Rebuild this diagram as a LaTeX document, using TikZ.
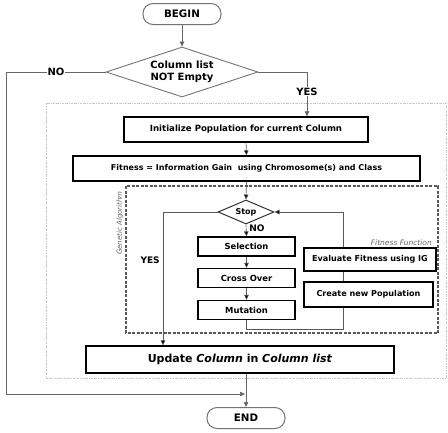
\documentclass[tikz,border=0pt]{standalone}
\usepackage{fontspec}
\setmainfont{DejaVu Sans}
\usetikzlibrary{arrows.meta,shapes.geometric}
\tikzset{
  terminal/.style={draw=gray!90!black, line width=1pt, rounded corners=10pt, minimum width=78pt, minimum height=21pt, inner sep=0pt, font=\fontsize{10.3}{11}\selectfont\bfseries},
  decide/.style={diamond, draw=gray!90!black, line width=0.9pt, inner sep=0pt},
  dtext/.style={align=center, inner sep=0pt, font=\fontsize{10}{11.5}\selectfont\bfseries},
  procbox/.style={draw=black, line width=1.3pt, inner sep=0pt, font=\fontsize{8.6}{10}\selectfont\bfseries},
  smallbox/.style={draw=black, line width=1.2pt, inner sep=0pt, minimum width=97pt, minimum height=19pt, font=\fontsize{8.4}{9}\selectfont\bfseries},
  fitbox/.style={draw=black, line width=1.2pt, inner sep=0pt, minimum width=130pt, minimum height=24pt, font=\fontsize{8.1}{9}\selectfont\bfseries},
  flow/.style={draw=gray!80!black, line width=0.6pt, -{Triangle[length=5pt,width=4.5pt]}},
  inflow/.style={draw=gray!70!black, line width=0.6pt, -{Triangle[length=5pt,width=4.5pt,fill=black]}},
  plain/.style={draw=gray!70!black, line width=0.6pt},
  lbl/.style={font=\fontsize{10}{11}\selectfont\bfseries, inner sep=1pt},
  ilbl/.style={font=\fontsize{9}{10}\selectfont\bfseries, inner sep=1pt},
}
\begin{document}
\begin{tikzpicture}[x=1pt,y=-1pt]
\useasboundingbox (0,0) rectangle (448,432);
% regions
\draw[gray!45, line width=0.6pt, dash pattern=on 2pt off 1pt on 0.5pt off 1pt] (46,103) rectangle (446,378);
\draw[gray!70!black, line width=1.1pt, dash pattern=on 3pt off 1.5pt] (126,186) rectangle (438,333);
\node[rotate=90, font=\fontsize{7}{8}\selectfont\itshape, text=gray!80!black, inner sep=0pt] (galbl) at (120,223) {Genetic Algorithm};
\node[font=\fontsize{7.5}{8}\selectfont\itshape, text=gray!80!black, anchor=south east, inner sep=1pt] (fflbl) at (433,247) {Fitness Function};
% nodes
\node[terminal] (begin) at (182,14) {BEGIN};
\node[decide, minimum width=152pt, minimum height=50pt] (cond) at (182,72) {};
\node[dtext] (condtxt) at (cond.center) {Column list\\NOT Empty};
\node[procbox, minimum width=244pt, minimum height=25pt] (init) at (246,129.5) {Initialize Population for current Column};
\node[procbox, minimum width=347pt, minimum height=25pt, font=\fontsize{8}{9}\selectfont\bfseries] (fit) at (246.5,168.5) {Fitness = Information Gain\ \ using Chromosome(s) and Class};
\node[decide, line width=1pt, draw=black!80, minimum width=56pt, minimum height=24pt] (stop) at (246,212) {};
\node[dtext, font=\fontsize{8}{9}\selectfont\bfseries] (stoptxt) at (stop.center) {Stop};
\node[smallbox] (sel) at (246.5,246.5) {Selection};
\node[smallbox] (cross) at (246.5,278) {Cross Over};
\node[smallbox] (mut) at (246.5,310) {Mutation};
\node[fitbox, minimum width=132pt, minimum height=23pt] (eval) at (370,259.5) {Evaluate Fitness using IG};
\node[fitbox, minimum width=129pt, minimum height=25pt] (create) at (368.5,294.5) {Create new Population};
\node[procbox, minimum width=308pt, minimum height=27pt, font=\fontsize{11}{12}\selectfont\bfseries] (upd) at (240,359.5) {Update \textit{Column} in \textit{Column list}};
\node[terminal] (end) at (246,418) {END};
\coordinate (join) at (245,394);
% connectors
\draw[flow] (begin) -- (cond);
\draw[flow] (cond.east) -| ([xshift=61pt]init.north) node[lbl, pos=0.72, fill=white] {YES};
\draw[flow] (cond.west) -- ++(-99,0) node[lbl, pos=0.5, fill=white] {NO} |- (join);
\draw[inflow] (init) -- (fit);
\draw[inflow] (fit.south) -- (stop.north);
\draw[inflow] (stop.south) -- (sel.north) node[ilbl, pos=0.3, right=2pt] {NO};
\draw[inflow] (stop.west) -| ([xshift=-77pt]upd.north) node[ilbl, pos=0.68, left=2pt] {YES};
\draw[inflow] (sel) -- (cross);
\draw[inflow] (cross) -- (mut);
\draw[plain] (mut.south) -- ++(0,9) -| ([xshift=-25.5pt]create.south);
\draw[plain] ([xshift=-25.5pt]create.north) -- ([xshift=-27pt]eval.south);
\draw[inflow] ([xshift=-27pt]eval.north) |- (stop.east);
\draw[flow] (upd.south -| end.north) -- (end.north);
\end{tikzpicture}
\end{document}
